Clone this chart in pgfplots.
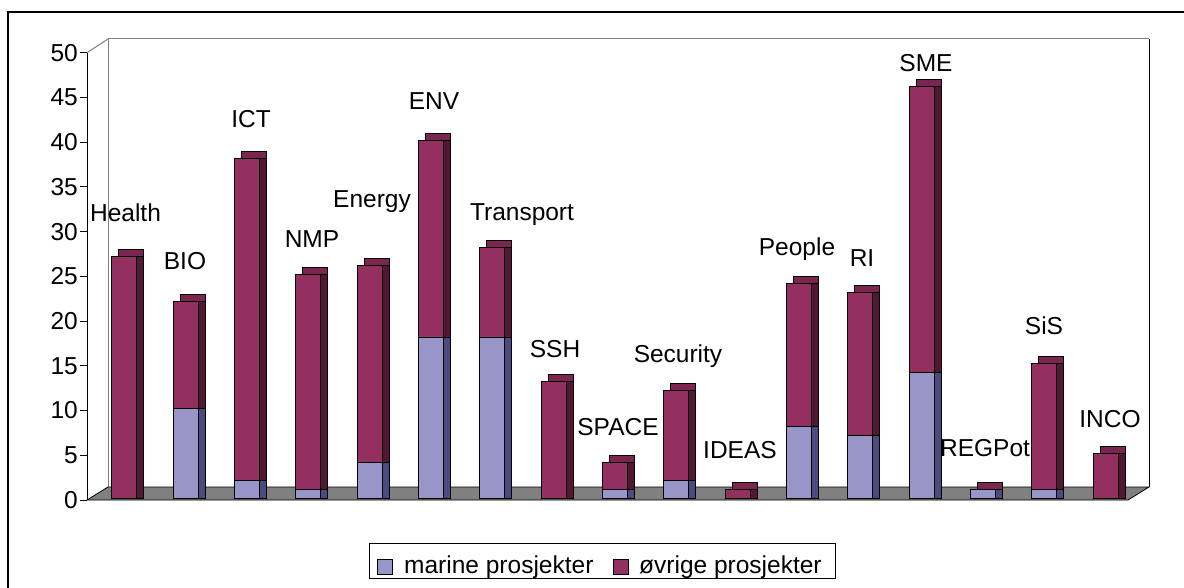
\documentclass[border=0pt]{standalone}
\usepackage{pgfplots}
\usepackage{pgfplotstable}
\pgfplotsset{compat=1.18}
\usepackage{fontspec}
\setmainfont{Liberation Sans}
\definecolor{marfront}{RGB}{152,150,200}
\definecolor{marside}{RGB}{75,75,128}
\definecolor{ovfront}{RGB}{148,48,95}
\definecolor{ovside}{RGB}{80,24,51}
\definecolor{ovtop}{RGB}{122,38,80}
\newcommand{\bigf}{\fontsize{24.5bp}{29bp}\selectfont}
\pgfplotstableread{
x marine ovrige
0 0 27
1 10 12
2 2 36
3 1 24
4 4 22
5 18 22
6 18 10
7 0 13
8 1 3
9 2 10
10 0 1
11 8 16
12 7 16
13 14 32
14 1 0
15 1 14
16 0 5
}\data
\pgfplotsset{base/.style={
  scale only axis, width=1041bp, height=447.3bp,
  xmin=-0.6066, xmax=16.367, ymin=0, ymax=50,
  ybar stacked, bar width=25bp, clip=false,
  at={(87bp,-500bp)}, anchor=south west,
  every axis plot/.append style={draw=black, line width=0.8bp},
}}
\begin{document}
\begin{tikzpicture}
\begin{scope}[x=1bp,y=-1bp]
\path[use as bounding box] (0,0) rectangle (1184,588);
\draw[line width=2bp] (8,589) -- (8,12.5) -- (1185,12.5);
% back wall
\fill[white] (108,39) rectangle (1149,487);
\draw[gray, line width=1bp] (108,487) -- (108,39) -- (1149,39);
\draw[black, line width=1bp] (1149,39) -- (1149,487);
% left wall top edge
\draw[gray, line width=1bp] (87,52.7) -- (108,39);
% floor
\filldraw[fill=gray, draw=black, line width=0.8bp] (87,500) -- (108,487) -- (1149,487) -- (1128,500) -- cycle;
\end{scope}
% layer A: top faces
\begin{axis}[base, axis lines=none, xtick=\empty, ytick=\empty]
\addplot[fill=ovtop, xshift=7bp, yshift=9bp] table[x=x,y=marine]{\data};
\addplot[fill=ovtop, xshift=7bp, yshift=9bp] table[x=x,y=ovrige]{\data};
\end{axis}
% layer B: side faces
\begin{axis}[base, axis lines=none, xtick=\empty, ytick=\empty]
\addplot[fill=marside, xshift=7bp, yshift=2bp] table[x=x,y=marine]{\data};
\addplot[fill=ovside, xshift=7bp, yshift=2bp] table[x=x,y=ovrige]{\data};
\end{axis}
% front faces
\begin{axis}[base,
  axis x line=none, axis y line*=left, xtick=\empty,
  ytick={0,5,...,50},
  tick align=outside, major tick length=7bp,
  tick style={black, line width=0.8bp},
  y axis line style={black, line width=1bp, -},
  /pgf/number format/assume math mode=true,
  yticklabel style={font=\bigf, inner sep=2bp},
]
\addplot[fill=marfront, yshift=2bp] table[x=x,y=marine]{\data};
\addplot[fill=ovfront, yshift=2bp] table[x=x,y=ovrige]{\data};
\end{axis}
\begin{scope}[x=1bp,y=-1bp, every node/.style={font=\bigf, inner sep=0pt, anchor=base}]
\node at (125.5,222) {Health};
\node at (185,270) {BIO};
\node at (251,128) {ICT};
\node at (312,248) {NMP};
\node at (372,208) {Energy};
\node at (434,110) {ENV};
\node at (522,221) {Transport};
\node at (555,357) {SSH};
\node at (618,435) {SPACE};
\node at (678,362) {Security};
\node at (740,458) {IDEAS};
\node at (797,256) {People};
\node at (862,267) {RI};
\node at (926,72) {SME};
\node at (985,456) {REGPot};
\node at (1044,335) {SiS};
\node at (1110,427) {INCO};
% legend
\draw[black, line width=0.8bp, fill=white] (369,543) rectangle (835,578);
\draw[black, line width=0.8bp, fill=marfront] (377,559) rectangle (392,574);
\draw[black, line width=0.8bp, fill=ovfront] (613,559) rectangle (628,574);
\node[anchor=base west] at (404,573.5) {marine prosjekter};
\node[anchor=base west] at (639,573.5) {øvrige prosjekter};
\end{scope}
\end{tikzpicture}
\end{document}
